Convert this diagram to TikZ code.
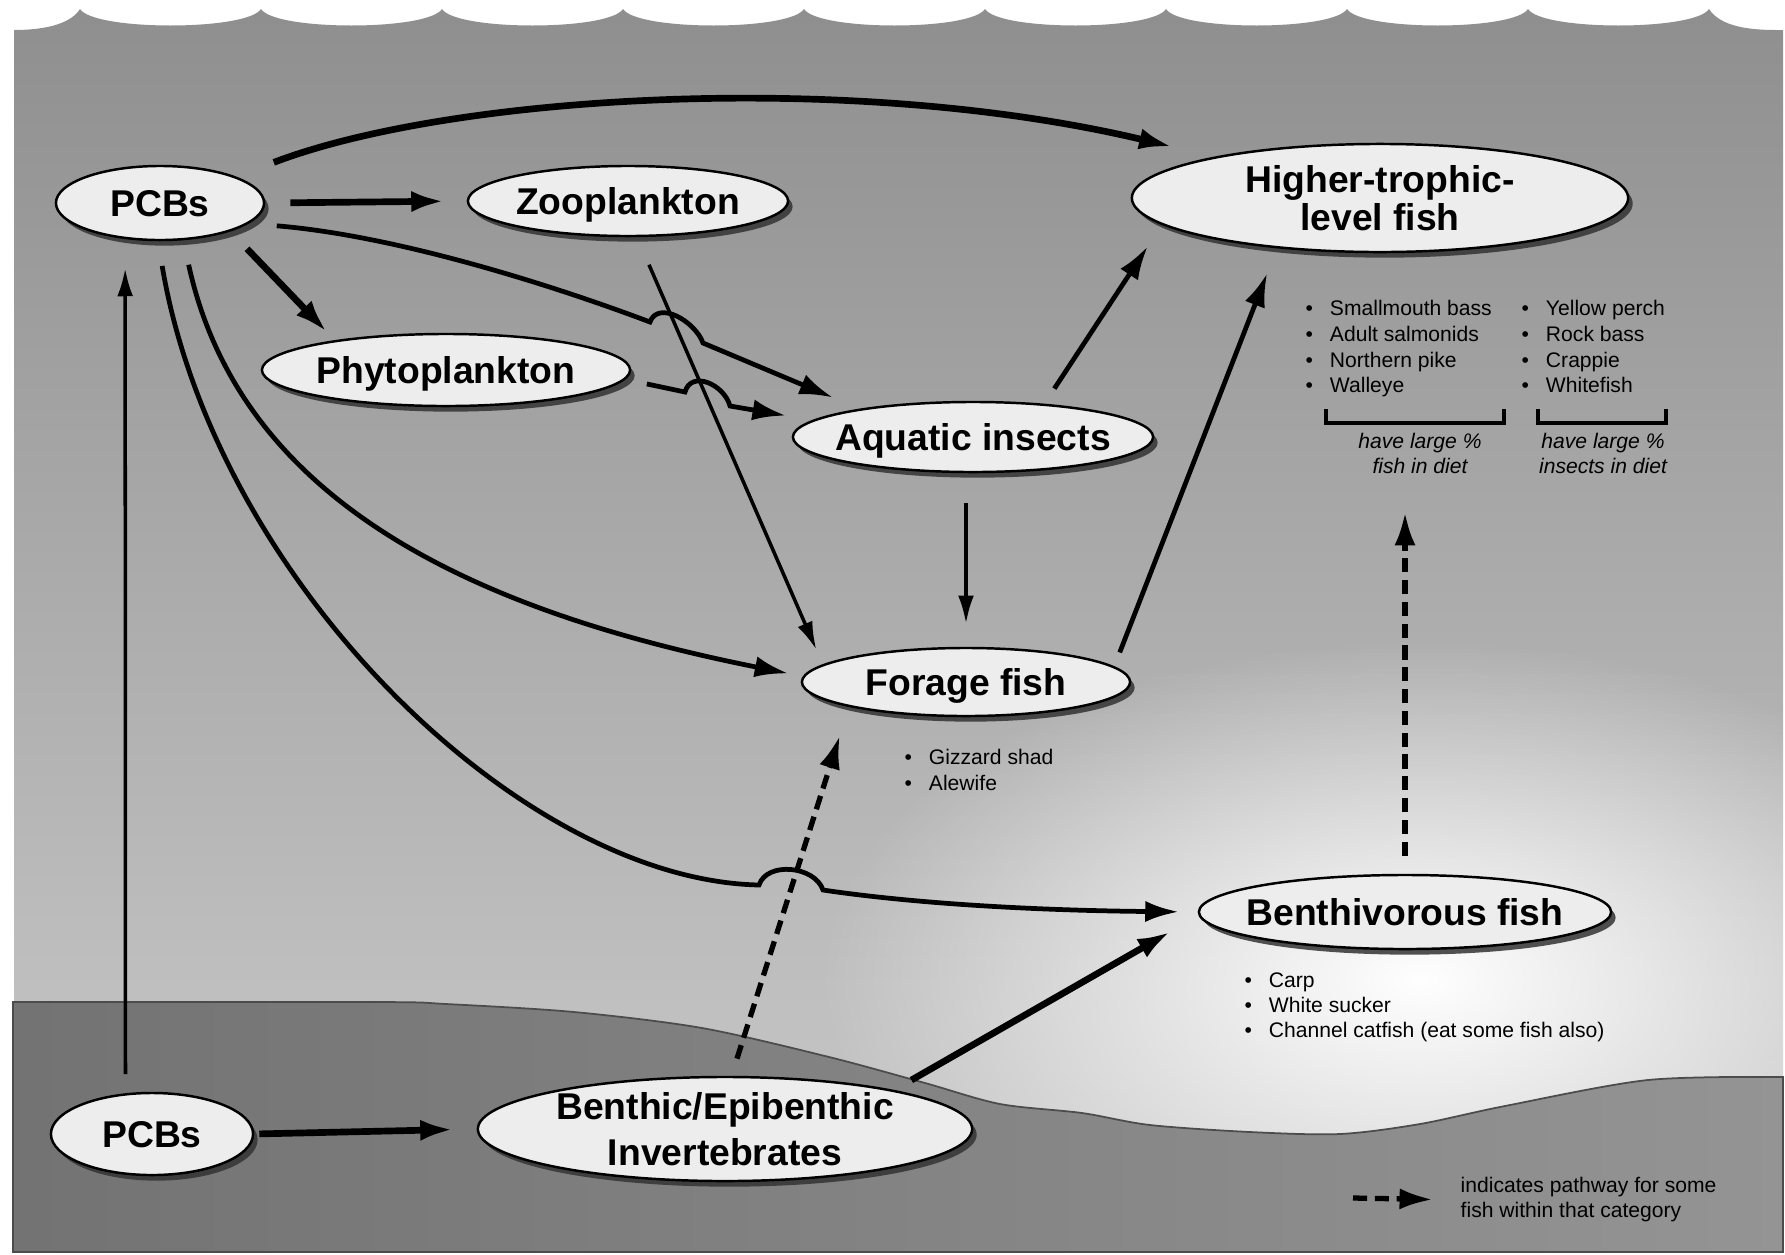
\documentclass[tikz,border=0pt]{standalone}
\usepackage{fontspec}
\setmainfont{Liberation Sans}
\usetikzlibrary{shapes.geometric,arrows.meta,shadows,fadings}
\tikzfading[name=glow, inner color=transparent!0, outer color=transparent!100]
\newcommand{\itemdot}{\textbullet\hspace{0.8em}}
\begin{document}
\begin{tikzpicture}[x=0.01cm, y=-0.01cm, >={Latex[length=9.5pt,width=6pt]}]
\tikzstyle{blob}=[ellipse, draw=black, line width=0.7pt, fill=black!7, inner sep=0pt, drop shadow={shadow xshift=1.3pt, shadow yshift=-1.6pt, fill=black!80, opacity=0.85}]
\tikzstyle{ttl}=[font=\bfseries\fontsize{10.6}{11}\selectfont, align=center, text depth=0pt, inner sep=0pt]
\tikzstyle{itm}=[anchor=base west, inner sep=0pt, font=\fontsize{6}{7}\selectfont]
\tikzstyle{note}=[align=center, inner sep=0pt, font=\itshape\fontsize{6}{7.1}\selectfont]
\tikzstyle{arrbig}=[->, line width=1.9pt]
\tikzstyle{arrmid}=[->, line width=1.35pt]
\tikzstyle{arrlite}=[->, line width=1pt, >={Latex[length=8pt,width=4.5pt]}]
\tikzstyle{arrdash}=[->, line width=1.5pt, dash pattern=on 4pt off 2.2pt]
\useasboundingbox (0,0) rectangle (1785,1254);
\fill[white] (0,0) rectangle (1785,1254);
% water with the waves on top
\shade[top color=black!44, bottom color=black!20] (14,1252) -- (14,30) .. controls (50,30) and (72,22) .. (80,9)
  \foreach \k in {1,...,9} { .. controls +(14,22) and +(-14,22) .. ({80+181*\k},9) }
  .. controls +(14,22) and (1765,30) .. (1783,30) -- (1783,1252) -- cycle;
\fill[white, path fading=glow] (1420,980) ellipse (600 and 340);
% sediment
\shade[left color=black!55, right color=black!42, draw=black!70, line width=0.5pt] plot[smooth] coordinates {(13,1002) (376,1002) (446,1004) (574,1012) (702,1028) (829,1057) (925,1083) (1000,1104) (1082,1113) (1150,1125) (1250,1132) (1340,1134) (1420,1124) (1505,1106) (1648,1080) (1783,1077)} -- (1783,1252) -- (13,1252) -- cycle;

\node[blob, minimum width=2.08cm, minimum height=0.74cm, label={[ttl]center:PCBs}] (pcbA) at (160,203) {};
\node[blob, minimum width=3.2cm, minimum height=0.70cm, label={[ttl]center:Zooplankton}] (zoo) at (628,201) {};
\node[blob, minimum width=3.68cm, minimum height=0.72cm, label={[ttl]center:Phytoplankton}] (phy) at (446,370) {};
\node[blob, minimum width=3.6cm, minimum height=0.70cm, label={[ttl]center:Aquatic insects}] (aqu) at (973,437) {};
\node[blob, minimum width=4.96cm, minimum height=1.08cm, label={[ttl]center:{Higher-trophic-\\level fish}}] (hi) at (1380,198) {};
\node[blob, minimum width=3.28cm, minimum height=0.68cm, label={[ttl]center:Forage fish}] (frg) at (966,682) {};
\node[blob, minimum width=4.12cm, minimum height=0.74cm, label={[ttl]center:Benthivorous fish}] (ben) at (1405,912) {};
\node[blob, minimum width=2.02cm, minimum height=0.82cm, label={[ttl]center:PCBs}] (pcbB) at (152,1134) {};
\node[blob, minimum width=4.94cm, minimum height=1.04cm, label={[ttl, font=\bfseries\fontsize{10.6}{13}\selectfont]center:{Benthic/Epibenthic\\Invertebrates}}] (inv) at (725,1129) {};

% fish lists
\foreach \t [count=\i] in {Smallmouth bass, Adult salmonids, Northern pike, Walleye}
\node[itm] (hl\i) at (1305,{290+25.7*\i}) {\itemdot\t};
\foreach \t [count=\i] in {Yellow perch, Rock bass, Crappie, Whitefish}
\node[itm] (hr\i) at (1521,{290+25.7*\i}) {\itemdot\t};
\foreach \t [count=\i] in {Gizzard shad, Alewife}
\node[itm] (fl\i) at (904,{738+26*\i}) {\itemdot\t};
\foreach \t [count=\i] in {Carp, White sucker, Channel catfish (eat some fish also)}
\node[itm] (bl\i) at (1244,{962+25*\i}) {\itemdot\t};
\draw[line width=0.9pt] (1326,409) |- (1504,423) -- (1504,409);
\draw[line width=0.9pt] (1538,409) |- (1666,423) -- (1666,409);
\node[note] (fd) at (1420,453) {have large \%\\fish in diet};
\node[note] (id) at (1603,453) {have large \%\\insects in diet};
\node[anchor=west, align=left, inner sep=0pt, font=\fontsize{6}{7.1}\selectfont] (leg) at (1460,1200) {indicates pathway for some\\fish within that category};

% line jumps
\coordinate (j1) at (650,322);
\coordinate (j2) at (703,343);
\coordinate (j3) at (685,392);
\coordinate (j4) at (730,406);
\coordinate (j5) at (759,885);
\coordinate (j6) at (823,890);
\coordinate (dtip) at (1405,512);
\coordinate (lgA) at (1353,1198);

\draw[arrbig, shorten <=0.25cm, shorten >=0.22cm] (pcbA.east) -- (zoo.west);
\draw[arrbig, shorten <=0.24cm, shorten >=0.11cm] (pcbA.-22) -- (phy.165);
\draw[arrbig, shorten <=0.4cm, shorten >=0.43cm] (pcbA.19) .. controls (450,95) and (850,70) .. (hi.166);
\draw[arrmid, shorten <=0.28cm, shorten >=0.29cm] (pcbA.-13) .. controls (400,236) and (560,288) .. (j1) .. controls +(8,-22) and +(-8,-22) .. (j2) -- (aqu.166);
\draw[arrmid, shorten <=0.22cm, shorten >=0.27cm] (phy.-3) -- (j3) .. controls +(6,-22) and +(-6,-22) .. (j4) -- (aqu.174);
\draw[arrlite, shorten <=0.3cm, shorten >=0.16cm] (zoo.-76) -- (frg.173);
\draw[arrlite, shorten <=0.3cm, shorten >=0.23cm] (frg.north |- aqu.south) -- (frg.north);
\draw[arrmid, shorten <=0.18cm, shorten >=0.26cm] (aqu.25) -- (hi.187);
\draw[arrmid, shorten <=0.15cm, shorten >=0.27cm] (frg.6) -- (hi.206);
\draw[arrmid, shorten <=0.25cm, shorten >=0.15cm] (pcbA.-58) .. controls (240,500) and (470,610) .. (frg.178);
\draw[arrmid, shorten <=0.25cm, shorten >=0.19cm] (pcbA.-93) .. controls (215,580) and (520,880) .. (j5) .. controls +(8,-24) and +(-8,-24) .. (j6) .. controls (890,900) and (1000,910) .. (ben.180);
\draw[arrlite, shorten <=0.19cm, shorten >=0.29cm] (pcbB.123) -- (pcbA.-134);
\draw[arrbig, shorten <=0.05cm, shorten >=0.23cm] (pcbB.east) -- (inv.west);
\draw[arrbig, shorten <=0.2cm, shorten >=0.32cm] (inv.13) -- (ben.181);
\draw[arrdash, shorten <=0.18cm, shorten >=0.3cm] (inv.83) -- (frg.192);
\draw[arrdash, shorten <=0.18cm] (ben.north) -- (dtip);
\draw[arrdash, shorten >=0.27cm] (lgA) -- (leg.west);
\end{tikzpicture}
\end{document}
